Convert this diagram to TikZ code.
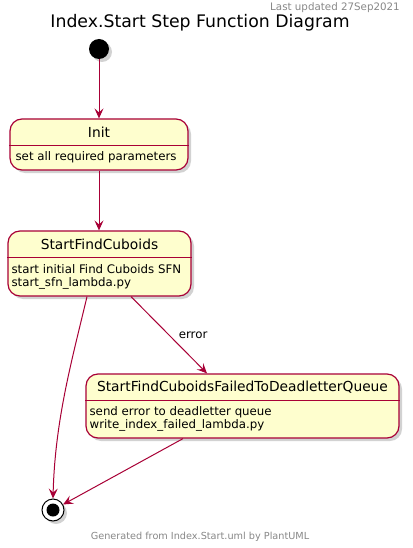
\documentclass[tikz,border=0pt]{standalone}
\usepackage{fontspec}
\setmainfont{DejaVu Sans}
\usetikzlibrary{arrows.meta,shadows}
\definecolor{umlred}{HTML}{A80036}
\definecolor{umlfill}{HTML}{FEFECE}
\definecolor{umlgray}{HTML}{888888}
\tikzset{
    statebox/.style={draw=umlred, fill=umlfill, line width=1.2pt, rounded corners=12pt, inner sep=0pt,
        drop shadow={opacity=0.35, shadow xshift=3pt, shadow yshift=-3pt}},
    divider/.style={draw=umlred, line width=1.2pt},
    trans/.style={draw=umlred, line width=1pt, -{Stealth[length=10pt,width=9pt,inset=4pt]}},
    statename/.style={inner sep=0pt, font=\fontsize{13.8}{16}\selectfont},
    statetext/.style={anchor=west, align=left, inner sep=0pt, font=\fontsize{11.8}{13}\selectfont},
    smallgray/.style={text=umlgray, inner sep=0pt, font=\fontsize{9.7}{12}\selectfont}
}
\begin{document}
\begin{tikzpicture}[x=1pt, y=-1pt]
    \useasboundingbox[fill=white] (0, 0) rectangle (412, 548);

    \node[smallgray, anchor=east, font=\fontsize{10.3}{12}\selectfont] (updated) at (400, 8) {Last updated 27Sep2021};
    \node[inner sep=0pt, font=\fontsize{17.3}{20}\selectfont] (title) at (200, 23) {Index.Start Step Function Diagram};

    \node[circle, fill=black, minimum size=20pt, inner sep=0pt, drop shadow={opacity=0.35, shadow xshift=3pt, shadow yshift=-3pt}] (start) at (99, 49) {};

    \node[statebox, minimum width=178pt, minimum height=51pt] (init) at (99, 144.5) {};
    \draw[divider] ([yshift=-27pt]init.north west) -- ([yshift=-27pt]init.north east);
    \node[statename] (initname) at ([yshift=-14pt]init.north) {Init};
    \node[statetext] (initbody) at ([xshift=6pt, yshift=-39pt]init.north west) {set all required parameters};

    \node[statebox, minimum width=183pt, minimum height=65pt] (find) at (99.5, 263.5) {};
    \draw[divider] ([yshift=-27pt]find.north west) -- ([yshift=-27pt]find.north east);
    \node[statename] (findname) at ([yshift=-14pt]find.north) {StartFindCuboids};
    \node[statetext] (findbody) at ([xshift=4pt, yshift=-46.5pt]find.north west) {start initial Find Cuboids SFN\\start\_sfn\_lambda.py};

    \node[statebox, minimum width=313pt, minimum height=64pt] (failed) at (242.5, 406) {};
    \draw[divider] ([yshift=-27pt]failed.north west) -- ([yshift=-27pt]failed.north east);
    \node[statename] (failedname) at ([yshift=-14pt]failed.north) {StartFindCuboidsFailedToDeadletterQueue};
    \node[statetext] (failedbody) at ([xshift=4pt, yshift=-45.5pt]failed.north west) {send error to deadletter queue\\write\_index\_failed\_lambda.py};

    \node[circle, draw=black, fill=white, line width=1pt, minimum size=22pt, inner sep=0pt, drop shadow={opacity=0.35, shadow xshift=3pt, shadow yshift=-3pt}] (stop) at (53, 510) {};
    \node[circle, fill=black, minimum size=13pt, inner sep=0pt] (stopcore) at (stop) {};

    \draw[trans] (start) -- (init);
    \draw[trans] (init) -- (init |- find.north);
    \draw[trans] ([xshift=31.5pt]find.south) -- node[right, xshift=6pt, font=\fontsize{11.8}{13}\selectfont] {error} ([xshift=-35.5pt]failed.north);
    \draw[trans] ([xshift=-12.5pt]find.south) .. controls (72, 360) and (55, 420) .. (stop.north);
    \draw[trans] ([xshift=-59.5pt]failed.south) -- (stop);

    \node[smallgray] (footer) at (200, 537) {Generated from Index.Start.uml by PlantUML};
\end{tikzpicture}
\end{document}
